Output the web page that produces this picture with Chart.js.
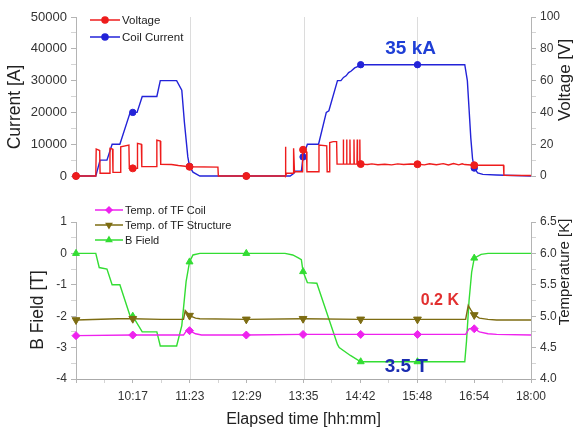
<!DOCTYPE html>
<html>
<head>
<meta charset="utf-8">
<script src="https://cdn.jsdelivr.net/npm/chart.js@4.4.0/dist/chart.umd.min.js"></script>
<style>
html, body { margin: 0; padding: 0; background: #fff; }
#wrap { width: 573px; height: 433px; position: relative; }
#top { position: absolute; left: 0; top: 0; }
#bot { position: absolute; left: 0; top: 200px; }
</style>
</head>
<body>
<div id="wrap">
  <canvas id="top" width="573" height="200"></canvas>
  <canvas id="bot" width="573" height="233"></canvas>
</div>
<script>
// x axis in minutes since midnight
const tickMinutes = [551, 617.125, 683.25, 749.375, 815.5, 881.625, 947.75, 1013.875, 1080];
const tickLabels = ['', '10:17', '11:23', '12:29', '13:35', '14:42', '15:48', '16:54', '18:00'];
const gridMinutes = [683.25, 815.5, 947.75];
const markerMinutes = [551, 617, 683, 749, 815, 882, 948, 1014];

// Top panel: coil current [A] and voltage [V]
const currentT = [551, 574, 579, 587, 593, 602, 614, 617, 622, 628, 645, 649, 668, 674, 677, 681, 683, 687, 695, 749, 800, 804, 806, 813, 815, 820, 833, 842, 845, 855, 859, 862, 865, 868, 871, 875, 879, 882, 948, 1003, 1006, 1008, 1010, 1012, 1014, 1018, 1024, 1040, 1080];
const currentA = [0, 0, 5000, 5000, 10000, 10000, 20000, 20000, 20000, 25000, 25000, 30000, 30000, 27000, 17000, 6000, 3000, 1200, 0, 0, 0, 800, 1500, 1500, 6000, 10000, 10000, 20000, 20500, 30000, 30000, 31000, 31500, 32500, 33000, 34000, 34500, 35000, 35000, 35000, 30000, 21000, 12000, 5500, 2500, 1000, 500, 300, 0];

const voltageT = [551, 574, 574.5, 578.5, 579, 590, 590.5, 593.5, 594, 602.5, 603, 612.5, 613, 617, 622, 622.5, 627, 627.5, 644.5, 645, 649, 649.5, 662, 670, 683, 716, 716.5, 749, 794, 794.5, 795, 796, 803.5, 804, 805, 814, 814.5, 815, 819, 819.5, 833, 833.5, 842.5, 843, 845.5, 846, 850, 854, 854.5,
  861.5, 861.8, 862.1, 865.4, 865.7, 866, 869.2, 869.5, 869.8, 873.9, 874.2, 874.5, 877.7, 878, 878.3, 880.7, 881, 881.3, 882,
  890, 895, 902, 910, 918, 925, 932, 940, 948, 956, 962, 970, 978, 984, 990, 996, 1000, 1003, 1014, 1048, 1048.5, 1080];
const voltageV = [0, 0, 17, 16, 1.7, 1.7, 17.4, 17, 2.3, 2.3, 18.4, 19.5, 4.8, 4.8, 4.8, 20.5, 20, 5.9, 5.9, 22.6, 22, 7.4, 7.2, 6.6, 5.8, 5.6, 0, 0, 0, 18.4, 0.3, 1.7, 1.7, 17.4, 2.7, 2.7, 18.4, 16.5, 15.3, 2.7, 2.7, 19.5, 19, 2.7, 2.7, 21, 21.6, 21.6, 7.5,
  7.5, 23, 7.5, 7.5, 23, 7.5, 7.5, 23, 7.5, 7.5, 23, 7.5, 7.5, 23, 7.5, 7.5, 23, 7.5, 7.5,
  7.2, 7.6, 7.1, 7.4, 7.0, 7.6, 7.2, 7.5, 7.4, 7.0, 7.7, 7.1, 7.8, 6.9, 7.8, 7.0, 7.7, 7.2, 6.8, 6.8, 0.5, 0.3];

// Bottom panel: B field [T] and temperatures [K]
const bFieldT = [551, 574, 578, 587, 593, 602, 614, 617, 628, 645, 649, 668, 674, 679, 683, 687, 695, 749, 794, 803, 810, 813, 815, 820, 831, 855, 857, 870, 882, 948, 1003, 1005, 1008, 1011, 1014, 1022, 1030, 1080];
const bFieldV = [0, 0, -0.45, -0.5, -1.0, -1.0, -2.0, -2.0, -2.5, -2.5, -2.95, -2.95, -2.3, -0.9, -0.27, -0.05, 0, 0, 0, -0.05, -0.15, -0.2, -0.58, -0.93, -0.95, -2.9, -3.0, -3.25, -3.45, -3.45, -3.45, -2.8, -1.5, -0.6, -0.15, -0.03, 0, 0];

const structT = [551, 600, 617, 650, 676, 678, 683, 690, 695, 749, 815, 882, 948, 1004, 1007, 1010, 1014, 1020, 1030, 1040, 1080];
const structK = [4.94, 4.96, 4.96, 4.95, 4.95, 5.09, 5.01, 4.97, 4.96, 4.95, 4.96, 4.95, 4.95, 4.95, 5.17, 5.1, 5.02, 4.97, 4.95, 4.94, 4.94];

const coilT = [551, 617, 676, 680, 683, 690, 697, 749, 815, 882, 948, 1004, 1008, 1012, 1014, 1020, 1030, 1040, 1080];
const coilK = [4.69, 4.70, 4.70, 4.78, 4.77, 4.72, 4.70, 4.70, 4.71, 4.71, 4.71, 4.71, 4.80, 4.81, 4.80, 4.75, 4.72, 4.71, 4.70];

const FONT = "'Liberation Sans', Arial, sans-serif";
const markerSet = new Set(markerMinutes);
const pts = (ts, vs) => ts.map((t, i) => ({ x: t, y: vs[i] }));
const markerRadius = r => c => (c.raw && markerSet.has(c.raw.x)) ? r : 0;

// vertical grid lines that run across both panels
const spanGrid = {
  id: 'spanGrid',
  beforeDatasetsDraw(chart, args, opts) {
    const xs = chart.scales.x, a = chart.chartArea, ctx = chart.ctx;
    const y0 = opts.up ? 0 : a.top;
    const y1 = opts.up ? a.bottom : chart.height;
    ctx.save();
    ctx.strokeStyle = '#dcdcdc';
    ctx.lineWidth = 1;
    gridMinutes.forEach(m => {
      const x = Math.round(xs.getPixelForValue(m)) + 0.5;
      ctx.beginPath(); ctx.moveTo(x, y0); ctx.lineTo(x, y1); ctx.stroke();
    });
    ctx.restore();
  }
};

// legend with line + marker like the original
const lineLegend = {
  id: 'lineLegend',
  afterDraw(chart, args, opts) {
    const ctx = chart.ctx;
    ctx.save();
    ctx.font = opts.size + 'px ' + FONT;
    ctx.textBaseline = 'middle';
    chart.data.datasets.forEach((ds, i) => {
      const y = opts.y + i * opts.gap;
      ctx.strokeStyle = ds.borderColor;
      ctx.fillStyle = ds.pointBackgroundColor;
      ctx.lineWidth = 1.5;
      ctx.beginPath(); ctx.moveTo(opts.x, y); ctx.lineTo(opts.x + opts.len, y); ctx.stroke();
      Chart.helpers.drawPoint(ctx, { pointStyle: ds.pointStyle, rotation: ds.pointRotation || 0, radius: 3, borderWidth: 1 }, opts.x + opts.len / 2, y);
      ctx.fillStyle = '#222';
      ctx.fillText(ds.label, opts.x + opts.len + 2, y + 1);
    });
    ctx.restore();
  }
};

// bold notes placed in data coordinates
const notes = {
  id: 'notes',
  afterDraw(chart, args, opts) {
    const ctx = chart.ctx;
    ctx.save();
    ctx.textAlign = 'center';
    ctx.textBaseline = 'middle';
    opts.items.forEach(n => {
      ctx.font = 'bold ' + n.size + 'px ' + FONT;
      ctx.fillStyle = n.color;
      ctx.fillText(n.text, chart.scales.x.getPixelForValue(n.x), chart.scales[n.axis].getPixelForValue(n.y));
    });
    ctx.restore();
  }
};

// y axis titles, all reading bottom to top as in the original
const sideTitles = {
  id: 'sideTitles',
  afterDraw(chart, args, opts) {
    const ctx = chart.ctx;
    ctx.save();
    ctx.textAlign = 'center';
    ctx.textBaseline = 'middle';
    ctx.fillStyle = '#222';
    opts.items.forEach(t => {
      ctx.save();
      ctx.translate(t.x, t.y);
      ctx.rotate(-Math.PI / 2);
      ctx.font = t.size + 'px ' + FONT;
      ctx.fillText(t.text, 0, 0);
      ctx.restore();
    });
    ctx.restore();
  }
};

const tickFont = { family: FONT, size: 12 };
const isMajor = (v, step) => Math.abs(v / step - Math.round(v / step)) < 1e-6;

// y axis with half-step minor ticks
const yAxis = (pos, min, max, step, fmt, size, width) => ({
  position: pos, min: min, max: max,
  afterBuildTicks: s => {
    const t = [];
    for (let k = 0; k <= Math.round((max - min) / (step / 2)); k++) t.push({ value: min + k * step / 2 });
    s.ticks = t;
  },
  ticks: { color: '#333', font: { family: FONT, size: size }, padding: 4, autoSkip: false,
    callback: v => isMajor(v - min, step) ? fmt(v) : '' },
  grid: { drawOnChartArea: false, tickLength: 5,
    color: c => (c.tick && isMajor(c.tick.value - min, step)) ? '#b4b4b4' : '#d4d4d4' },
  border: { color: '#b4b4b4' },
  afterFit: s => { s.width = width; }
});

const lineDs = (label, data, color, style, r, rot, yAxisID) => ({
  label: label, data: data, yAxisID: yAxisID,
  borderColor: color, backgroundColor: color, pointBackgroundColor: color, pointBorderColor: color,
  borderWidth: 1.4, tension: 0, clip: false,
  pointStyle: style, pointRotation: rot, pointRadius: markerRadius(r), pointBorderWidth: 1, pointHoverRadius: 0
});

Chart.defaults.font.family = FONT;

// x ticks: labelled majors plus unlabelled midpoints
const xTicks = [];
tickMinutes.forEach((m, i) => {
  xTicks.push({ value: m });
  if (i < tickMinutes.length - 1) xTicks.push({ value: (m + tickMinutes[i + 1]) / 2 });
});

new Chart(document.getElementById('top'), {
  type: 'line',
  data: {
    datasets: [
      lineDs('Voltage', pts(voltageT, voltageV), '#ee1c1c', 'circle', 3.5, 0, 'y1'),
      lineDs('Coil Current', pts(currentT, currentA), '#2323d8', 'circle', 3.2, 0, 'y')
    ]
  },
  options: {
    responsive: false, animation: false, events: [],
    layout: { padding: { top: 17, bottom: 24, left: 0, right: 0 } },
    plugins: {
      legend: { display: false }, tooltip: { enabled: false },
      spanGrid: { up: false },
      lineLegend: { x: 90, y: 20, gap: 17, len: 30, size: 11.5 },
      notes: { items: [{ text: '35 kA', x: 940, y: 40000, axis: 'y', size: 19, color: '#1f3fd6' }] },
      sideTitles: { items: [
        { text: 'Current [A]', x: 15, y: 107, size: 17.5 },
        { text: 'Voltage [V]', x: 565, y: 80, size: 17 }
      ] }
    },
    scales: {
      x: { type: 'linear', display: false, min: 551, max: 1080 },
      y: yAxis('left', 0, 50000, 10000, v => String(v), 13, 76),
      y1: yAxis('right', 0, 100, 20, v => String(v), 12, 42)
    }
  },
  plugins: [spanGrid, lineLegend, notes, sideTitles]
});

new Chart(document.getElementById('bot'), {
  type: 'line',
  data: {
    datasets: [
      lineDs('Temp. of TF Coil', pts(coilT, coilK), '#ee22ee', 'rectRot', 4, 0, 'y1'),
      lineDs('Temp. of TF Structure', pts(structT, structK), '#7d6c12', 'triangle', 4.5, 180, 'y1'),
      lineDs('B Field', pts(bFieldT, bFieldV), '#33dd33', 'triangle', 4, 0, 'y')
    ]
  },
  options: {
    responsive: false, animation: false, events: [],
    layout: { padding: { top: 22, bottom: 0, left: 0, right: 0 } },
    plugins: {
      legend: { display: false }, tooltip: { enabled: false },
      spanGrid: { up: true },
      lineLegend: { x: 95, y: 10, gap: 15, len: 28, size: 11 },
      notes: { items: [
        { text: '0.2 K', x: 974, y: 5.25, axis: 'y1', size: 16, color: '#e23030' },
        { text: '3.5 T', x: 935, y: -3.62, axis: 'y', size: 19, color: '#1a2cb0' }
      ] },
      sideTitles: { items: [
        { text: 'B Field [T]', x: 38, y: 110, size: 17.5 },
        { text: 'Temperature [K]', x: 565, y: 72, size: 15 }
      ] }
    },
    scales: {
      x: {
        type: 'linear', min: 551, max: 1080, position: 'bottom',
        afterBuildTicks: s => { s.ticks = xTicks.map(t => ({ value: t.value })); },
        ticks: { color: '#333', font: tickFont, padding: 6, autoSkip: false, maxRotation: 0,
          callback: v => { const i = tickMinutes.indexOf(v); return i >= 0 ? tickLabels[i] : ''; } },
        grid: { drawOnChartArea: false, tickLength: 4,
          color: c => (c.tick && tickMinutes.indexOf(c.tick.value) >= 0) ? '#b4b4b4' : '#d4d4d4' },
        border: { color: '#aaa' },
        title: { display: true, text: 'Elapsed time [hh:mm]', color: '#222', padding: { top: 0, bottom: 5 }, font: { family: FONT, size: 16, lineHeight: 1 } },
        afterFit: s => { s.height = 54; }
      },
      y: yAxis('left', -4, 1, 1, v => String(v), 12, 76),
      y1: yAxis('right', 4, 6.5, 0.5, v => v.toFixed(1), 12, 42)
    }
  },
  plugins: [spanGrid, lineLegend, notes, sideTitles]
});
</script>
</body>
</html>
